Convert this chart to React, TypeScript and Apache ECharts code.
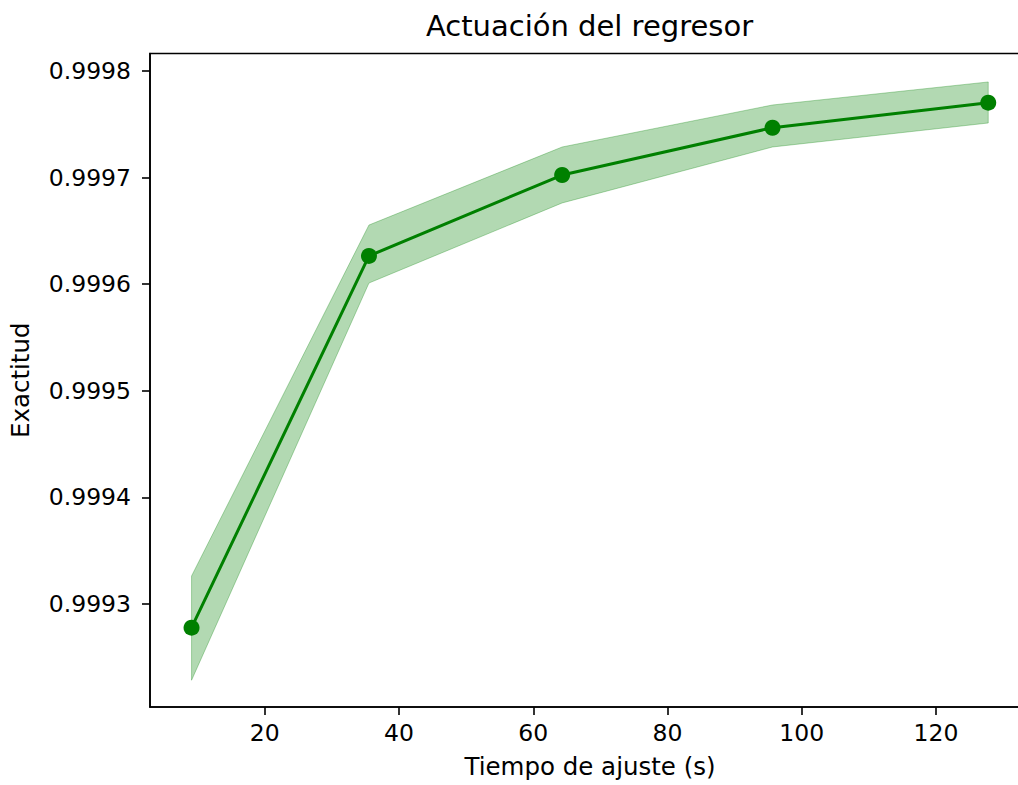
import React, { useEffect, useRef } from "react";
import * as echarts from "echarts";

const fitTimes = [9.09, 35.52, 64.3, 95.64, 127.78];
const meanScores = [0.9992778, 0.9996265, 0.9997024, 0.9997468, 0.9997703];
const upperScores = [0.9993263, 0.9996555, 0.9997287, 0.9997681, 0.9997897];
const lowerScores = [0.9992285, 0.9996011, 0.9996762, 0.9997287, 0.9997512];
const xTicks = [20, 40, 60, 80, 100, 120];
const yTicks = [0.9993, 0.9994, 0.9995, 0.9996, 0.9997, 0.9998];

const FONT = "DejaVu Sans";
const GREEN = "#008000";
const BAND = "rgba(0,128,0,0.3)";

export default function App() {
  const ref = useRef<HTMLDivElement>(null);
  useEffect(() => {
    if (!ref.current) return;
    const chart = echarts.init(ref.current, undefined, { renderer: "svg" });
    const meanData = fitTimes.map((x, i) => [x, meanScores[i]]);
    chart.setOption({
      animation: false,
      backgroundColor: "#fff",
      textStyle: { fontFamily: FONT, color: "#000" },
      grid: {
        left: 149,
        top: 53.5,
        right: 10,
        bottom: 78,
        show: true,
        borderColor: "#000",
        borderWidth: 1.6,
        backgroundColor: "transparent",
      },
      graphic: [
        {
          type: "text",
          x: 589.5,
          y: 26,
          style: {
            text: "Actuación del regresor",
            font: `29px '${FONT}'`,
            fill: "#000",
            align: "center",
            verticalAlign: "middle",
          },
        },
      ],
      xAxis: {
        type: "value",
        min: 2.9,
        max: 134.0,
        name: "Tiempo de ajuste (s)",
        nameLocation: "middle",
        nameGap: 47,
        nameTextStyle: { fontFamily: FONT, fontSize: 24.5, color: "#000" },
        axisLine: { show: true, onZero: false, lineStyle: { color: "#000", width: 1.6 } },
        axisTick: {
          show: true,
          inside: false,
          length: 8,
          customValues: xTicks,
          lineStyle: { color: "#000", width: 1.6 },
        },
        axisLabel: {
          customValues: xTicks,
          margin: 14,
          fontFamily: FONT,
          fontSize: 23.5,
          color: "#000",
        },
        splitLine: { show: false },
      },
      yAxis: {
        type: "value",
        min: 0.9992034,
        max: 0.9998164,
        name: "Exactitud",
        nameLocation: "middle",
        nameGap: 117,
        nameTextStyle: { fontFamily: FONT, fontSize: 24.5, color: "#000" },
        axisLine: { show: true, onZero: false, lineStyle: { color: "#000", width: 1.6 } },
        axisTick: {
          show: true,
          inside: false,
          length: 8,
          customValues: yTicks,
          lineStyle: { color: "#000", width: 1.6 },
        },
        axisLabel: {
          customValues: yTicks,
          margin: 19,
          fontFamily: FONT,
          fontSize: 23.5,
          color: "#000",
          formatter: (v: number) => v.toFixed(4),
        },
        splitLine: { show: false },
      },
      series: [
        {
          type: "custom",
          data: [[fitTimes[0], meanScores[0]]],
          clip: true,
          z: 1,
          renderItem: (params: any, api: any) => {
            const pts: number[][] = [];
            for (let i = 0; i < fitTimes.length; i++) {
              pts.push(api.coord([fitTimes[i], upperScores[i]]));
            }
            for (let i = fitTimes.length - 1; i >= 0; i--) {
              pts.push(api.coord([fitTimes[i], lowerScores[i]]));
            }
            return {
              type: "polygon",
              shape: { points: pts },
              style: { fill: BAND, stroke: BAND, lineWidth: 1 },
            };
          },
        },
        {
          type: "line",
          data: meanData,
          symbol: "circle",
          symbolSize: 16,
          itemStyle: { color: GREEN },
          lineStyle: { color: GREEN, width: 3 },
          z: 3,
        },
      ],
    });
    return () => chart.dispose();
  }, []);
  return (
    <div
      style={{
        position: "fixed",
        left: 0,
        top: 0,
        width: 1018,
        height: 785,
        overflow: "hidden",
        background: "#fff",
      }}
    >
      <div ref={ref} style={{ width: 1040, height: 785 }} />
    </div>
  );
}
